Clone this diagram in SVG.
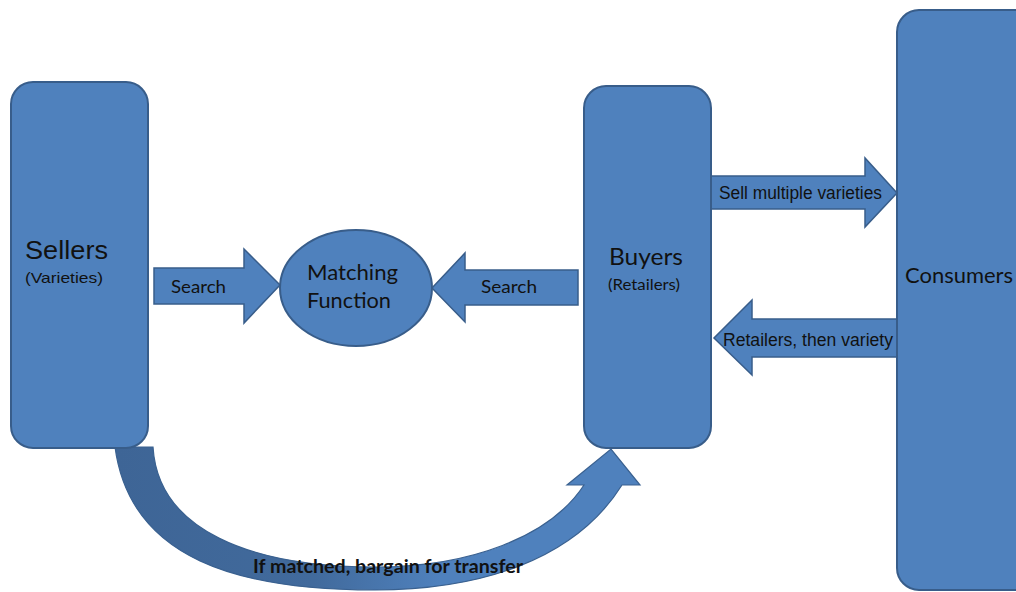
<svg xmlns="http://www.w3.org/2000/svg" width="1016" height="592" viewBox="0 0 1016 592">
<defs>
<linearGradient id="curveFill" x1="0" y1="0" x2="1" y2="0">
<stop offset="0" stop-color="#3e6596"/>
<stop offset="0.38" stop-color="#416a9c"/>
<stop offset="0.62" stop-color="#4f81bd"/>
<stop offset="1" stop-color="#4f81bd"/>
</linearGradient>
</defs>
<style>
.box{fill:#4f81bd;stroke:#385d8a;stroke-width:2}
.arrow{fill:#4f81bd;stroke:#385d8a;stroke-width:1.5;stroke-linejoin:miter}
.arial{font-family:"Liberation Sans",Arial,sans-serif;fill:#111}
.cal{font-family:Lato,"Open Sans",sans-serif;fill:#111}
</style>
<rect width="1016" height="592" fill="#ffffff"/>
<g id="connectors">
<path id="curve" d="M115,447 L153,447 C158,530 250,567 375,567 C470,567 550,537 584,485 L567,485 L611,449 L640,485 L622,485 C575,560 480,590 375,590 C240,590 130,560 115,447 Z" fill="url(#curveFill)" stroke="#3a6190" stroke-width="1.2"/>
<path id="searchLeft" class="arrow" d="M154,268 L244,268 L244,249 L280,285 L244,323 L244,304 L154,304 Z"/>
<path id="searchRight" class="arrow" d="M578,270 L465,270 L465,253 L432,288 L465,322 L465,305 L578,305 Z"/>
<path id="sellArrow" class="arrow" d="M711,176 L865,176 L865,158 L897,193 L865,227 L865,209 L711,209 Z"/>
<path id="retailArrow" class="arrow" d="M897,319 L752,319 L752,300 L714,338 L752,375 L752,357 L897,357 Z"/>
<text class="cal" x="171" y="293" font-size="18" textLength="55" lengthAdjust="spacingAndGlyphs">Search</text>
<text class="cal" x="481" y="293" font-size="18" textLength="56" lengthAdjust="spacingAndGlyphs">Search</text>
<text class="arial" x="719" y="199" font-size="17.5" textLength="163" lengthAdjust="spacingAndGlyphs">Sell multiple varieties</text>
<text class="arial" x="723" y="346" font-size="17.5" textLength="170" lengthAdjust="spacingAndGlyphs">Retailers, then variety</text>
<text class="cal" x="253" y="573" font-size="18" font-weight="bold" fill="#000" textLength="270" lengthAdjust="spacingAndGlyphs">If matched, bargain for transfer</text>
</g>
<g id="sellers">
<rect class="box" x="11" y="82" width="137" height="366" rx="22"/>
<text class="arial" x="25" y="259" font-size="25" textLength="83" lengthAdjust="spacingAndGlyphs">Sellers</text>
<text class="arial" x="25" y="283" font-size="15" textLength="78" lengthAdjust="spacingAndGlyphs">(Varieties)</text>
</g>
<g id="matching">
<ellipse cx="356" cy="288" rx="76" ry="58" class="box"/>
<text class="cal" x="307" y="280" font-size="21" textLength="91" lengthAdjust="spacingAndGlyphs">Matching</text>
<text class="cal" x="307" y="308" font-size="21" textLength="84" lengthAdjust="spacingAndGlyphs">Function</text>
</g>
<g id="buyers">
<rect class="box" x="584" y="86" width="127" height="362" rx="22"/>
<text class="cal" x="609" y="265" font-size="24" textLength="74" lengthAdjust="spacingAndGlyphs">Buyers</text>
<text class="cal" x="608" y="290" font-size="15.5" textLength="72" lengthAdjust="spacingAndGlyphs">(Retailers)</text>
</g>
<g id="consumers">
<rect class="box" x="897" y="10" width="150" height="580" rx="22"/>
<text class="cal" x="905" y="283" font-size="21" textLength="108" lengthAdjust="spacingAndGlyphs">Consumers</text>
</g>
</svg>
